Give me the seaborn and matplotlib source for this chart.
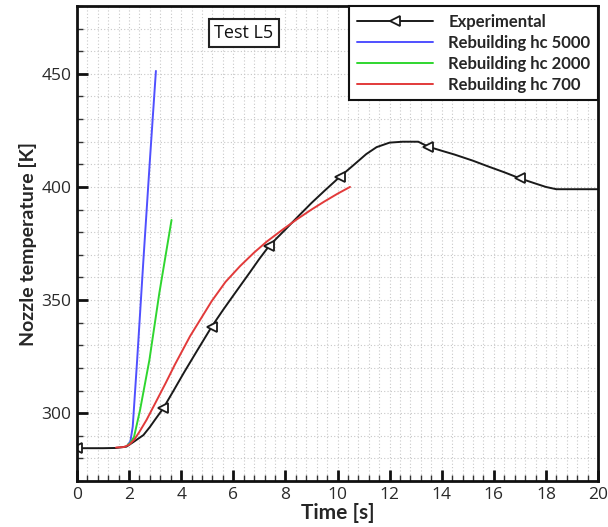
import numpy as np
import pandas as pd
import matplotlib
matplotlib.use("Agg")
import matplotlib.pyplot as plt
from matplotlib.ticker import MultipleLocator
import seaborn as sns

# ---- data ----
exp_t = [0.0, 0.5, 1.0, 1.5, 1.9, 2.2, 2.55, 2.8, 2.99, 3.31, 3.7, 4.1, 4.6, 5.17,
         5.6, 6.0, 6.64, 7.0, 7.38, 8.0, 8.5, 9.0, 9.5, 10.1, 10.6, 11.1, 11.5,
         12.0, 12.5, 13.1, 13.49, 14.0, 14.5, 15.2, 15.8, 16.4, 17.0, 17.6, 18.0,
         18.4, 19.0, 19.5, 20.0]
exp_v = [284.5, 284.5, 284.5, 284.6, 285.2, 287.5, 290.3, 293.9, 297.0, 302.1, 309.8,
         317.8, 327.4, 338.2, 345.5, 352.0, 362.3, 368.2, 374.0, 381.2, 387.1, 392.9,
         398.3, 404.6, 409.5, 414.5, 417.6, 419.6, 420.0, 420.0, 417.8, 416.0, 414.3,
         411.6, 409.0, 406.5, 403.8, 401.5, 400.0, 399.0, 399.0, 399.0, 399.0]
exp_marker_idx = [0, 9, 13, 18, 23, 30, 36]

hc5000_t = [1.95, 2.05, 2.14, 2.31, 2.55, 2.80, 3.03]
hc5000_v = [286.0, 287.5, 294.0, 323.5, 367.7, 412.0, 451.3]

hc2000_t = [1.95, 2.05, 2.19, 2.42, 2.78, 3.16, 3.63]
hc2000_v = [286.0, 286.8, 289.5, 301.3, 323.5, 353.0, 385.4]

hc700_t = [1.5, 1.8, 2.0, 2.2, 2.4, 2.67, 3.0, 3.4, 3.76, 4.34, 5.17, 5.7, 6.26,
           6.8, 7.28, 7.9, 8.43, 9.0, 9.5, 10.0, 10.48]
hc700_v = [284.8, 285.0, 286.0, 288.3, 291.8, 297.0, 304.3, 313.2, 321.5, 334.0,
           349.5, 358.0, 365.0, 371.0, 375.8, 381.2, 385.6, 390.0, 393.6, 397.0, 400.0]

labels = ["Experimental", "Rebuilding hc 5000", "Rebuilding hc 2000", "Rebuilding hc 700"]
colors = ["#1a1a1a", "#5050ff", "#2fd62f", "#e23a3a"]

# ---- style ----
sns.set_style("ticks")
plt.rcParams["font.family"] = ["Lato", "DejaVu Sans"]

fig = plt.figure(figsize=(6.08, 5.27), dpi=100)
ax = fig.add_axes([0.1266, 0.0873, 0.8570, 0.9013])

df_exp = pd.DataFrame({"t": exp_t, "v": exp_v})
sns.lineplot(data=df_exp, x="t", y="v", ax=ax, color=colors[0], lw=1.4,
             marker="<", markevery=exp_marker_idx, markersize=7,
             markerfacecolor="white", markeredgecolor=colors[0], markeredgewidth=1.3,
             label=labels[0], sort=False, estimator=None)
for tt, vv, lab, col in [(hc5000_t, hc5000_v, labels[1], colors[1]),
                         (hc2000_t, hc2000_v, labels[2], colors[2]),
                         (hc700_t, hc700_v, labels[3], colors[3])]:
    d = pd.DataFrame({"t": tt, "v": vv})
    sns.lineplot(data=d, x="t", y="v", ax=ax, color=col, lw=1.4, label=lab,
                 sort=False, estimator=None)

ax.set_xlim(0, 20)
ax.set_ylim(270, 480)
ax.xaxis.set_major_locator(MultipleLocator(2))
ax.xaxis.set_minor_locator(MultipleLocator(0.4))
ax.yaxis.set_major_locator(MultipleLocator(50))
ax.yaxis.set_minor_locator(MultipleLocator(10))

ax.grid(which="both", linestyle=(0, (1, 2)), color="#c8c8c8", linewidth=0.8)
ax.set_axisbelow(True)

for s in ax.spines.values():
    s.set_linewidth(2.0)
    s.set_color("#111111")
ax.tick_params(which="major", direction="in", length=8, width=2, labelsize=12.5,
               labelcolor="#2a2a2a", color="#111111", pad=4)
ax.tick_params(which="minor", direction="in", length=4, width=1, color="#333333")
for lbl in ax.get_xticklabels() + ax.get_yticklabels():
    lbl.set_fontfamily(["Open Sans", "DejaVu Sans"])

ax.set_xlabel("Time [s]", fontsize=15, fontweight="bold", labelpad=0)
ax.set_ylabel("Nozzle temperature [K]", fontsize=14, fontweight="bold", labelpad=3)

leg = ax.legend(loc="upper right", bbox_to_anchor=(1.0, 1.0), borderaxespad=0,
                fancybox=False, framealpha=1, edgecolor="#111111",
                prop={"weight": "bold", "size": 12}, handlelength=4.6,
                handletextpad=0.9, labelspacing=0.3, borderpad=0.45, numpoints=1)
leg.get_frame().set_linewidth(1.5)

ax.text(0.3205, 0.943, "Test L5", transform=ax.transAxes, ha="center", va="center",
        fontsize=13, color="#111111", family=["Open Sans", "DejaVu Sans"],
        bbox=dict(boxstyle="square,pad=0.3", facecolor="white",
                  edgecolor="#222222", linewidth=1.5))

fig.savefig("out.png", dpi=100)
